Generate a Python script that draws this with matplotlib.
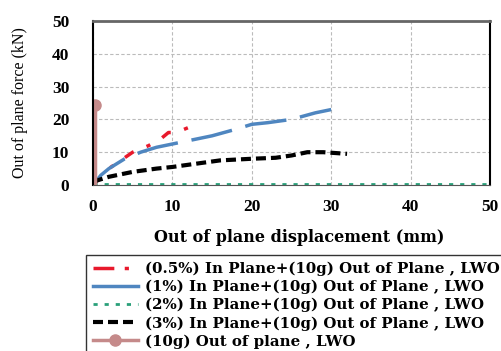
import numpy as np
import matplotlib.pyplot as plt
from matplotlib.lines import Line2D

plt.rcParams['font.family'] = ['Liberation Serif', 'DejaVu Serif']

# (0.5%) in plane + (10g) out of plane
red_x = [0, 1, 2, 3.5, 5, 6, 7, 8.5, 9.5, 10.5, 12, 13]
red_y = [0, 2.5, 5, 7.5, 10, 11, 12, 14, 16, 16, 17.5, 19]
# (1%)
blue_x = [0, 1, 2, 4, 6, 8, 10, 12, 15, 18, 20, 22, 25, 28, 30]
blue_y = [0, 3, 5, 8, 10, 11.5, 12.5, 13.5, 15, 17, 18.5, 19, 20, 22, 23]
# (2%)
green_x = [0, 50]
green_y = [0.3, 0.3]
# (3%)
black_x = [0, 2, 5, 8, 10, 13, 16, 20, 23, 25, 27, 29, 32]
black_y = [1, 2.5, 4, 5, 5.5, 6.5, 7.5, 8, 8.3, 9, 10, 10, 9.5]
# (10g) out of plane
pink_x = [0.3, 0.3]
pink_y = [0, 24.5]

labels = ['(0.5%) In Plane+(10g) Out of Plane , LWO',
          '(1%) In Plane+(10g) Out of Plane , LWO',
          '(2%) In Plane+(10g) Out of Plane , LWO',
          '(3%) In Plane+(10g) Out of Plane , LWO',
          '(10g) Out of plane , LWO']

red, blue, green, pink = '#e8192c', '#4f86c0', '#2aa07a', '#c58a8a'

fig = plt.figure(figsize=(5.02, 3.51), dpi=100)
ax = fig.add_axes([93/502, 1-185/351, (490-93)/502, (185-21)/351])

ax.plot(red_x, red_y, color=red, lw=2.5, dashes=(3, 4, 1.2, 4))
ax.plot(blue_x, blue_y, color=blue, lw=2.5, dashes=(12, 4))
ax.plot(green_x, green_y, color=green, lw=2, dashes=(1.5, 2.5))
ax.plot(black_x, black_y, color='black', lw=3, dashes=(2.4, 1.2))
ax.plot(pink_x, pink_y, color=pink, lw=2.5)
ax.plot(pink_x[-1], pink_y[-1], 'o', color=pink, ms=8)

ax.set_xlim(0, 50)
ax.set_ylim(0, 50)
ax.set_xticks([0, 10, 20, 30, 40, 50])
ax.set_yticks([0, 10, 20, 30, 40, 50])
ax.grid(True, color='#bbbbbb', ls=(0, (3, 2)), lw=0.8)
ax.set_axisbelow(True)
ax.tick_params(length=0, labelsize=12.5)
ax.tick_params(axis='x', pad=10)
ax.tick_params(axis='y', pad=17)
for t in ax.get_xticklabels() + ax.get_yticklabels():
    t.set_fontweight('bold')
ax.spines['top'].set_color('#666666')
ax.spines['top'].set_linewidth(2)
ax.spines['right'].set_linewidth(1.5)
ax.spines['left'].set_linewidth(1.5)
ax.spines['bottom'].set_color('#555555')

ax.set_xlabel('Out of plane displacement (mm)', fontsize=11.5, fontweight='bold',
              family=['DejaVu Serif'], labelpad=11)
ax.set_ylabel('Out of plane force (kN)', fontsize=11.5, labelpad=17)
ax.xaxis.set_label_coords(0.52, -0.27)

h = [Line2D([], [], color=red, lw=2.5, dashes=(6, 3, 1.2, 3)),
     Line2D([], [], color=blue, lw=2.5),
     Line2D([], [], color=green, lw=2, dashes=(1.5, 2.5)),
     Line2D([], [], color='black', lw=3, dashes=(2.4, 1.2)),
     Line2D([0, 1], [0, 0], color=pink, lw=2.5, marker='o', ms=8, markevery=[1])]
leg = fig.legend(h, labels, loc='upper left', bbox_to_anchor=(86/502, 1-255/351),
                 prop={'weight': 'bold', 'size': 10.8, 'family': ['DejaVu Serif']},
                 frameon=True, fancybox=False, edgecolor='black', borderpad=0.45,
                 borderaxespad=0, labelspacing=0.25, handlelength=3.0,
                 handletextpad=0.5)
leg.get_frame().set_linewidth(1)

fig.savefig('out.png', dpi=100)
